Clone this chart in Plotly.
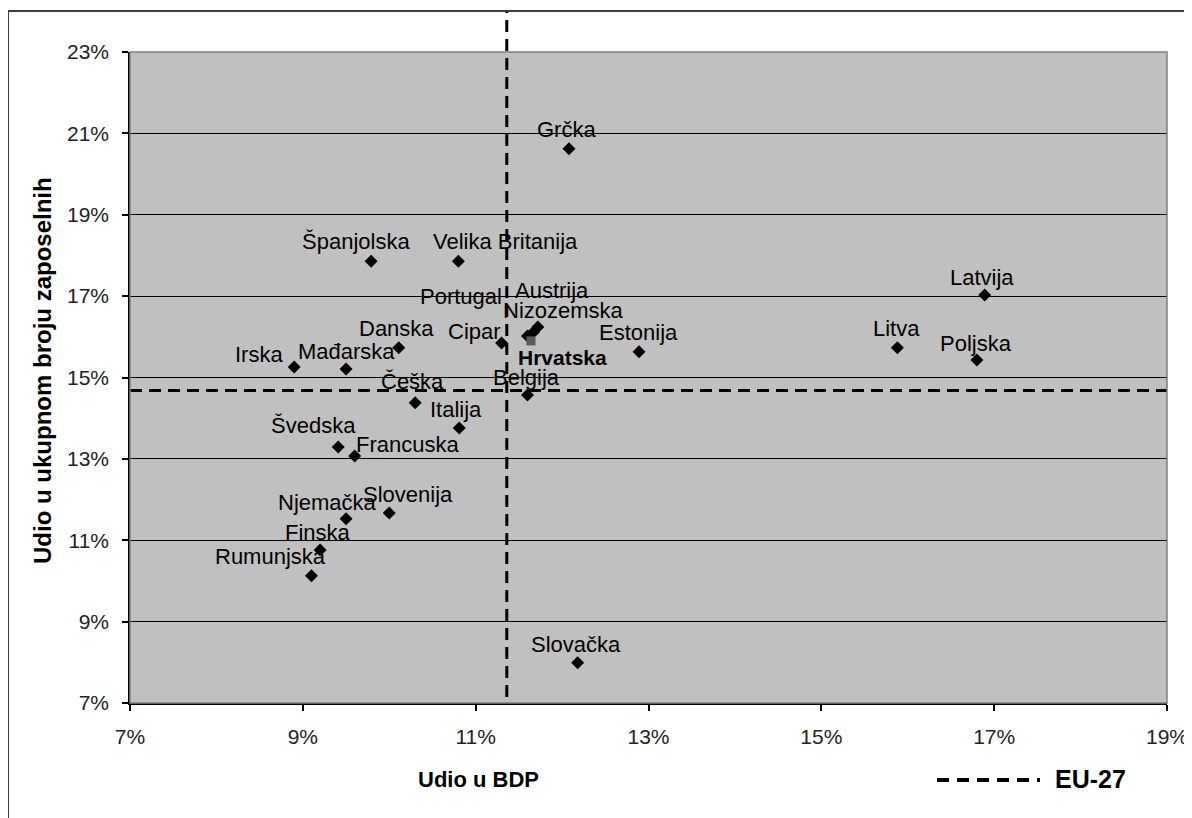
import plotly.graph_objects as go

# ---- data (values in %) ----
countries = ["Grčka", "Španjolska", "Velika Britanija", "Latvija", "Portugal", "Austrija",
             "Nizozemska", "Danska", "Cipar", "Estonija", "Litva", "Poljska", "Irska",
             "Mađarska", "Češka", "Belgija", "Italija", "Švedska", "Francuska", "Njemačka",
             "Slovenija", "Finska", "Rumunjska", "Slovačka"]
gdp_share = [12.08, 9.79, 10.80, 16.89, 11.60, 11.72, 11.67, 10.11, 11.30, 12.89, 15.88, 16.80,
             8.90, 9.50, 10.30, 11.60, 10.81, 9.41, 9.60, 9.50, 10.00, 9.20, 9.10, 12.18]
emp_share = [20.62, 17.86, 17.86, 17.03, 16.02, 16.24, 16.12, 15.73, 15.85, 15.63, 15.73, 15.43,
             15.26, 15.21, 14.38, 14.57, 13.76, 13.29, 13.07, 11.53, 11.67, 10.76, 10.13, 7.99]
croatia_name = ["Hrvatska"]
croatia_gdp = [11.64]
croatia_emp = [15.90]
eu27_gdp = [11.36]
eu27_emp = [14.68]
x_ticks = [7, 9, 11, 13, 15, 17, 19]
y_ticks = [7, 9, 11, 13, 15, 17, 19, 21, 23]
x_tick_labels = ["7%", "9%", "11%", "13%", "15%", "17%", "19%"]
y_tick_labels = ["7%", "9%", "11%", "13%", "15%", "17%", "19%", "21%", "23%"]

# label offsets in screen pixels (dx right, dy down) - styling only
label_offsets = [(-3, -19), (-15, -20), (47, -20), (-3, -17), (-67, -40), (14, -37),
                 (30, -21), (-2, -19), (-27, -11), (0, -19), (-1, -19), (-1, -17),
                 (-35, -12), (0, -17), (-3, -21), (-1, -18), (-3, -18), (-25, -22),
                 (53, -12), (-19, -16), (19, -18), (-2, -18), (-41, -19), (-2, -18)]
croatia_offset = (32, 17)

FONT = "Liberation Sans, Arial, sans-serif"
# page (window) geometry; the html body adds an 8px margin
OFF = 8
PAGE_W, PAGE_H = 1192, 818
PL, PR_EDGE, PT, PB_EDGE = 130, 1167, 52, 703   # plot area in page pixels
W, H = PAGE_W - OFF, PAGE_H - OFF
L, T = PL - OFF, PT - OFF
R, B = W - (PR_EDGE - OFF), H - (PB_EDGE - OFF)
PW, PH = PR_EDGE - PL, PB_EDGE - PT


def px(xp):
    return (xp - PL) / PW


def py(yp):
    return (PB_EDGE - yp) / PH


fig = go.Figure()

# EU-27 horizontal line (data coords)
fig.add_trace(go.Scatter(
    x=[x_ticks[0], x_ticks[-1]], y=[eu27_emp[0], eu27_emp[0]], mode="lines",
    line=dict(color="black", width=3, dash="12px,7px"), hoverinfo="skip", showlegend=False))

fig.add_trace(go.Scatter(
    x=gdp_share, y=emp_share, mode="markers",
    marker=dict(symbol="diamond", size=10, color="black"),
    text=countries, hoverinfo="text", showlegend=False, cliponaxis=False))

fig.add_trace(go.Scatter(
    x=croatia_gdp, y=croatia_emp, mode="markers",
    marker=dict(symbol="square", size=9, color="#5a5a5a"),
    text=croatia_name, hoverinfo="text", showlegend=False, cliponaxis=False))

annotations = []
for name, xv, yv, (dx, dy) in zip(countries, gdp_share, emp_share, label_offsets):
    annotations.append(dict(x=xv, y=yv, xref="x", yref="y", text=name, showarrow=False,
                            xshift=dx, yshift=-dy, font=dict(family=FONT, size=22, color="black")))
annotations.append(dict(x=croatia_gdp[0], y=croatia_emp[0], xref="x", yref="y",
                        text="<b>" + croatia_name[0] + "</b>", showarrow=False,
                        xshift=croatia_offset[0], yshift=-croatia_offset[1],
                        font=dict(family=FONT, size=21, color="black")))

# axis titles
annotations.append(dict(x=px(478), y=py(780), xref="paper", yref="paper", text="<b>Udio u BDP</b>",
                        xanchor="center", yanchor="middle",
                        showarrow=False, font=dict(family=FONT, size=22, color="black")))
annotations.append(dict(x=px(42), y=py(371), xref="paper", yref="paper",
                        text="<b>Udio u ukupnom broju zaposelnih</b>", textangle=-90,
                        xanchor="center", yanchor="middle",
                        showarrow=False, font=dict(family=FONT, size=24, color="black")))
# legend text
annotations.append(dict(x=px(1053), y=py(779), xref="paper", yref="paper", text="<b>EU-27</b>",
                        xanchor="left", yanchor="middle",
                        showarrow=False, font=dict(family=FONT, size=25, color="black")))

shapes = [
    # plot area border (gray)
    dict(type="rect", xref="paper", yref="paper", x0=0, y0=0, x1=1, y1=1,
         line=dict(color="#808080", width=1.5), layer="above"),
    # EU-27 vertical line
    dict(type="line", xref="x", yref="paper", x0=eu27_gdp[0], x1=eu27_gdp[0],
         y0=py(697), y1=py(12), line=dict(color="black", width=3, dash="12px,7px"), layer="above"),
    # legend sample
    dict(type="line", xref="paper", yref="paper", x0=px(937), x1=px(1040), y0=py(780), y1=py(780),
         line=dict(color="black", width=4, dash="12px,8px")),
    # outer frame (left & top edges)
    dict(type="line", xref="paper", yref="paper", x0=px(8), x1=px(8), y0=py(11), y1=py(830),
         line=dict(color="#404040", width=2)),
    dict(type="line", xref="paper", yref="paper", x0=px(8), x1=px(1200), y0=py(11), y1=py(11),
         line=dict(color="#404040", width=2)),
]

fig.update_layout(
    width=W, height=H, margin=dict(l=L, r=R, t=T, b=B, pad=0, autoexpand=False),
    paper_bgcolor="white", plot_bgcolor="#c0c0c0",
    font=dict(family=FONT, size=21, color="black"),
    showlegend=False, annotations=annotations, shapes=shapes,
    xaxis=dict(range=[x_ticks[0], x_ticks[-1]], tickmode="array", tickvals=x_ticks,
               ticktext=x_tick_labels, ticklabeloverflow="allow", automargin=False,
               showgrid=False, zeroline=False, showline=True, linecolor="black", linewidth=1.5,
               ticks="outside", ticklen=6, tickcolor="black", tickwidth=1.5,
               ticklabelstandoff=8, tickfont=dict(family=FONT, size=21, color="#222")),
    yaxis=dict(range=[y_ticks[0], y_ticks[-1]], tickmode="array", tickvals=y_ticks,
               ticktext=y_tick_labels, ticklabeloverflow="allow", automargin=False,
               showgrid=True, gridcolor="black", gridwidth=1.2, zeroline=False,
               showline=True, linecolor="black", linewidth=1.5,
               ticks="outside", ticklen=6, tickcolor="black", tickwidth=1.5,
               ticklabelstandoff=9, tickfont=dict(family=FONT, size=21, color="#222")),
)

fig.write_html("out.html")
